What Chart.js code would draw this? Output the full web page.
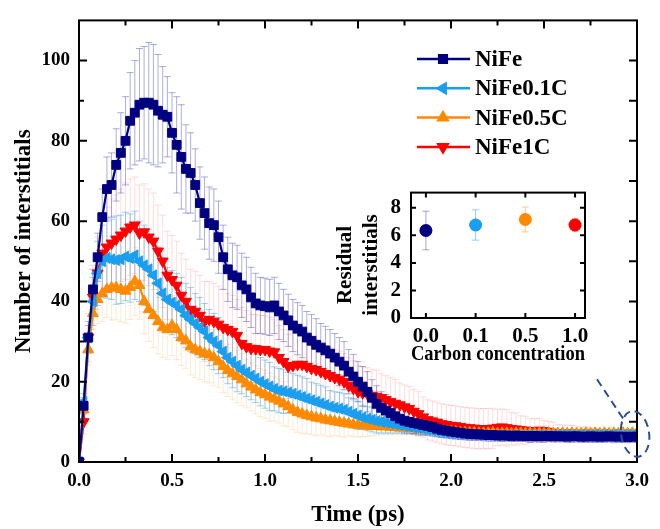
<!DOCTYPE html>
<html>
<head>
<meta charset="utf-8">
<script src="https://cdn.jsdelivr.net/npm/chart.js@4.4.1/dist/chart.umd.min.js"></script>
<style>
  html, body { margin: 0; padding: 0; background: #fff; }
  #wrap { position: relative; width: 660px; height: 529px; }
  #main { position: absolute; left: 0; top: 0; }
  #inset { position: absolute; left: 330px; top: 170px; }
</style>
</head>
<body>
<div id="wrap">
  <canvas id="main" width="660" height="529"></canvas>
  <canvas id="inset" width="270" height="200"></canvas>
</div>
<script>
const FONT = 'Liberation Serif, Times New Roman, serif';

const TIME = [
  0, 0.025, 0.05, 0.075, 0.1, 0.125, 0.15, 0.175,
  0.2, 0.225, 0.25, 0.275, 0.3, 0.325, 0.35, 0.375,
  0.4, 0.425, 0.45, 0.475, 0.5, 0.525, 0.55, 0.575,
  0.6, 0.625, 0.65, 0.675, 0.7, 0.725, 0.75, 0.775,
  0.8, 0.825, 0.85, 0.875, 0.9, 0.925, 0.95, 0.975,
  1.0, 1.025, 1.05, 1.075, 1.1, 1.125, 1.15, 1.175,
  1.2, 1.225, 1.25, 1.275, 1.3, 1.325, 1.35, 1.375,
  1.4, 1.425, 1.45, 1.475, 1.5, 1.525, 1.55, 1.575,
  1.6, 1.625, 1.65, 1.675, 1.7, 1.725, 1.75, 1.775,
  1.8, 1.825, 1.85, 1.875, 1.9, 1.925, 1.95, 1.975,
  2.0, 2.025, 2.05, 2.075, 2.1, 2.125, 2.15, 2.175,
  2.2, 2.225, 2.25, 2.275, 2.3, 2.325, 2.35, 2.375,
  2.4, 2.425, 2.45, 2.475, 2.5, 2.525, 2.55, 2.575,
  2.6, 2.625, 2.65, 2.675, 2.7, 2.725, 2.75, 2.775,
  2.8, 2.825, 2.85, 2.875, 2.9, 2.925, 2.95, 2.975,
  3.0
];

const NIFE = [
  0, 14, 31, 43, 51, 61, 68, 69,
  74, 77, 80, 85, 87, 89, 89.5, 89.5,
  89, 87.5, 86.5, 86, 82, 79, 76, 73,
  72, 69, 64.5, 62, 59.5, 59, 56, 51,
  48, 46.5, 46, 44, 43, 41, 39.5, 39,
  38.8, 38.5, 39, 37.5, 36.5, 35.3, 34, 33.2,
  32.5, 31, 30.2, 29.2, 28.5, 27.8, 27, 26,
  25, 24, 22.5, 21.3, 20, 18.8, 17.5, 16,
  14.5, 13.5, 12.8, 12.2, 11.4, 10.8, 10.3, 10,
  9.7, 9.5, 9.2, 9, 8.7, 8.3, 8, 7.8,
  7.6, 7.4, 7.3, 7.1, 7, 6.9, 6.9, 6.8,
  6.7, 6.7, 6.6, 6.6, 6.6, 6.5, 6.6, 6.5,
  6.5, 6.4, 6.5, 6.4, 6.4, 6.5, 6.4, 6.4,
  6.4, 6.3, 6.4, 6.4, 6.3, 6.3, 6.4, 6.3,
  6.3, 6.3, 6.4, 6.3, 6.3, 6.3, 6.2, 6.3,
  6.3
];
const NIFE_ERR = [
  0, 2, 3, 5, 6, 7, 8, 8,
  9, 10, 11, 12, 13, 14, 14, 15,
  15, 14, 12, 10, 10, 12, 13, 11,
  10, 9, 9, 9, 9, 9, 9, 8,
  8, 8, 8, 8, 8, 7.5, 7.5, 7,
  7, 7, 7, 7, 6.5, 6.5, 6.5, 6.5,
  6.5, 6.5, 6.5, 6.5, 6, 6, 6, 6,
  6, 6, 5.5, 5.5, 5, 5, 5, 4.5,
  4.5, 4, 4, 3.5, 3.5, 3, 3, 2.8,
  2.6, 2.5, 2.4, 2.2, 2, 2, 1.9, 1.8,
  1.8, 1.7, 1.7, 1.6, 1.6, 1.5, 1.5, 1.5,
  1.5, 1.5, 1.4, 1.5, 1.4, 1.4, 1.5, 1.4,
  1.4, 1.5, 1.4, 1.4, 1.5, 1.4, 1.4, 1.4,
  1.4, 1.4, 1.5, 1.4, 1.4, 1.4, 1.5, 1.4,
  1.4, 1.4, 1.4, 1.5, 1.4, 1.4, 1.4, 1.4,
  1.4
];

const NIFE01C = [
  0, 15, 31, 40, 47, 50, 50.8, 50.5,
  50.3, 50.5, 51.2, 50.8, 51.5, 50, 49, 48,
  46.5, 44.5, 42, 40.5, 39.7, 39, 38, 36.5,
  35.5, 34.5, 33.5, 32.5, 31, 30, 29, 27.5,
  26, 25, 24, 23, 22.3, 21.5, 20.8, 20,
  19.4, 18.8, 18.2, 17.8, 17.6, 17.3, 17, 16.6,
  16.2, 15.8, 15.4, 15, 14.6, 14.2, 13.8, 13.5,
  13.3, 13, 12.5, 12, 11.6, 11.1, 10.8, 10.5,
  10.2, 10, 9.8, 9.6, 9.4, 9.2, 9, 8.8,
  8.6, 8.4, 8.3, 8.1, 7.9, 7.7, 7.5, 7.3,
  7.2, 7.1, 7, 6.9, 6.9, 6.8, 6.8, 6.7,
  6.7, 6.7, 6.6, 6.7, 6.6, 6.6, 6.7, 6.6,
  6.6, 6.7, 6.6, 6.7, 6.7, 6.6, 6.7, 6.7,
  6.7, 6.8, 6.7, 6.7, 6.8, 6.7, 6.7, 6.8,
  6.7, 6.8, 6.7, 6.8, 6.8, 6.7, 6.8, 6.7,
  6.75
];
const NIFE01C_ERR = [
  0, 2, 4, 6, 8, 9, 10, 10,
  11, 11, 11, 11, 11, 10, 10, 10,
  9, 9, 9, 8, 8, 8, 8, 8,
  8, 7.5, 7.5, 7, 7, 7, 7, 6.5,
  6.5, 6.5, 6.5, 6, 6, 6, 6, 6,
  6, 6, 5.5, 5.5, 5.5, 5, 5, 5,
  5, 5, 4.5, 4.5, 4.5, 4.5, 4, 4,
  4, 4, 3.5, 3.5, 3.5, 3, 3, 3,
  3, 2.8, 2.6, 2.4, 2.2, 2, 2, 1.8,
  1.8, 1.7, 1.6, 1.5, 1.5, 1.4, 1.4, 1.3,
  1.3, 1.2, 1.2, 1.2, 1.2, 1.1, 1.2, 1.1,
  1.1, 1.2, 1.1, 1.1, 1.2, 1.1, 1.1, 1.1,
  1.2, 1.1, 1.1, 1.1, 1.2, 1.1, 1.1, 1.2,
  1.1, 1.1, 1.2, 1.1, 1.1, 1.1, 1.2, 1.1,
  1.1, 1.1, 1.2, 1.1, 1.1, 1.1, 1.1, 1.1,
  1.1
];

const NIFE05C = [
  0, 13, 28, 37, 40.5, 42, 43, 43.4,
  43.4, 43, 42.6, 43.5, 45, 44, 40, 38,
  36.5, 35, 33.5, 33, 34, 33, 31, 30.2,
  28.7, 28, 27.5, 27, 26.7, 26, 25, 23.8,
  22.8, 22, 21.3, 20.5, 19.5, 18.7, 18, 17.3,
  16.8, 16.2, 15.7, 15.2, 14.5, 13.8, 13, 12.4,
  12, 11.6, 11.3, 11, 10.8, 10.5, 10.3, 10.1,
  9.9, 9.7, 9.5, 9.3, 9.2, 9.1, 9, 8.9,
  8.9, 8.8, 8.8, 8.7, 8.6, 8.5, 8.5, 8.4,
  8.3, 8.2, 8.1, 8, 7.9, 7.8, 7.7, 7.6,
  7.6, 7.5, 7.4, 7.4, 7.3, 7.3, 7.2, 7.2,
  7.2, 7.3, 7.1, 7.2, 7.2, 7.1, 7.2, 7.2,
  7.1, 7.2, 7.1, 7.2, 7.1, 7.2, 7.1, 7.1,
  7.2, 7.1, 7.2, 7.1, 7.1, 7.2, 7.1, 7.2,
  7.1, 7.2, 7.1, 7.2, 7.1, 7.2, 7.1, 7.2,
  7.15
];
const NIFE05C_ERR = [
  0, 2, 4, 5, 6, 7, 7, 8,
  8, 8, 8, 8, 8.5, 8.5, 8, 8,
  8, 8, 7.5, 7.5, 7.5, 7.5, 7, 7,
  7, 7, 7, 7, 7, 7, 6.5, 6.5,
  6.5, 6.5, 6.5, 6.5, 6, 6, 6, 6,
  6, 6, 5.5, 5.5, 5.5, 5, 5, 5,
  5, 4.5, 4.5, 4.5, 4, 4, 4, 3.5,
  3.5, 3.5, 3, 3, 3, 2.8, 2.6, 2.4,
  2.2, 2, 2, 1.8, 1.8, 1.6, 1.6, 1.5,
  1.5, 1.4, 1.4, 1.3, 1.3, 1.2, 1.2, 1.1,
  1.1, 1, 1, 1, 1, 1, 0.9, 1,
  0.9, 1, 0.9, 0.9, 1, 0.9, 0.9, 0.9,
  1, 0.9, 0.9, 0.9, 1, 0.9, 0.9, 0.9,
  0.9, 1, 0.9, 0.9, 0.9, 1, 0.9, 0.9,
  0.9, 0.9, 1, 0.9, 0.9, 0.9, 0.9, 0.9,
  0.9
];

const NIFE1C = [
  0, 10, 31, 41, 47, 52, 53.5, 54.5,
  55.5, 56.5, 57.5, 58.5, 59, 57, 57.3, 56,
  55, 52.5, 50, 46.5, 45.4, 44, 41.5, 40,
  38, 37.5, 36.5, 35, 35.5, 35, 34.3, 33.5,
  33, 32.5, 31.5, 29.5, 28.7, 28.3, 28.2, 28,
  28, 27.6, 27.4, 26, 25, 23.8, 24, 24.3,
  24.3, 23.8, 23.3, 23, 22.5, 22, 21.5, 21,
  20.6, 20, 19, 18.3, 17.5, 17.2, 17, 16.6,
  16.3, 16, 15.5, 15, 14.6, 14.2, 13.7, 13.3,
  12.6, 12, 11.2, 10.5, 10.2, 9.9, 9.5, 9.3,
  9.1, 9, 8.8, 8.6, 8.5, 8.4, 8.3, 8.3,
  8.3, 8.4, 8.6, 8.7, 8.5, 8.3, 8.2, 8,
  7.9, 7.8, 7.8, 7.9, 7.8, 7.6, 7.4, 7.3,
  7.2, 7.2, 7.1, 7.1, 7.1, 7.2, 7.1, 7.1,
  7, 7, 6.9, 6.9, 6.8, 6.8, 6.8, 6.8,
  6.75
];
const NIFE1C_ERR = [
  0, 3, 6, 8, 9, 10, 10, 11,
  11, 11.5, 12, 12, 12, 12, 12, 12,
  12, 11.5, 11.5, 11, 11, 11, 10.5, 10.5,
  10, 10, 10, 10, 9.5, 9.5, 9.5, 9.5,
  9, 9, 9, 9, 9, 8.5, 8.5, 8.5,
  8.5, 8.5, 8, 8, 8, 8, 8, 8,
  7.5, 7.5, 7.5, 7.5, 7.5, 7, 7, 7,
  7, 7, 7, 7, 6.5, 6.5, 6.5, 6.5,
  6.5, 6, 6, 6, 6, 5.5, 5.5, 5.5,
  5.5, 5.5, 5, 5, 5, 5, 5, 5,
  5, 5, 5, 5, 5, 5, 5, 5,
  5, 5, 4.5, 4.5, 4.5, 4, 4, 3.5,
  3.5, 3, 3, 3, 2.5, 2.5, 2.5, 2,
  2, 2, 2, 1.8, 1.6, 1.5, 1.4, 1.2,
  1, 1, 0.9, 0.8, 0.7, 0.6, 0.5, 0.5,
  0.45
];

const X_TICKS = [0, 0.5, 1.0, 1.5, 2.0, 2.5, 3.0];
const X_MINOR = [0.25, 0.75, 1.25, 1.75, 2.25, 2.75];
const Y_TICKS = [0, 20, 40, 60, 80, 100];
const Y_MINOR = [10, 30, 50, 70, 90];

// inset: residual interstitials vs carbon concentration
const CONC_LABELS = ['0.0', '0.1', '0.5', '1.0'];
const CONC_POS = [0, 1, 2, 3];
const RESIDUAL = [6.35, 6.75, 7.15, 6.75];
const RESIDUAL_ERR = [1.4, 1.1, 0.9, 0.45];
const INSET_Y_TICKS = [0, 2, 4, 6, 8];

const SERIES = [
  { label: 'NiFe', values: NIFE, errors: NIFE_ERR, color: '#000080', errColor: 'rgba(40,40,170,0.38)', style: 'rect', rot: 0, radius: 6.2 },
  { label: 'NiFe0.1C', values: NIFE01C, errors: NIFE01C_ERR, color: '#1a9ff0', errColor: 'rgba(30,160,240,0.45)', style: 'triangle', rot: -90, radius: 6.3 },
  { label: 'NiFe0.5C', values: NIFE05C, errors: NIFE05C_ERR, color: '#ff8a00', errColor: 'rgba(255,140,0,0.18)', style: 'triangle', rot: 0, radius: 6.3 },
  { label: 'NiFe1C', values: NIFE1C, errors: NIFE1C_ERR, color: '#ff0000', errColor: 'rgba(255,0,0,0.14)', style: 'triangle', rot: 180, radius: 6.3 },
];

const errorBars = {
  id: 'errorBars',
  beforeDatasetsDraw(chart) {
    const { ctx, chartArea, scales: { x, y } } = chart;
    ctx.save();
    ctx.beginPath();
    ctx.rect(chartArea.left, chartArea.top, chartArea.width, chartArea.height);
    ctx.clip();
    ctx.lineWidth = 1;
    chart.data.datasets.forEach((ds) => {
      if (!ds.errors) return;
      ds.data.forEach((p, i) => {
        const e = ds.errors[i];
        if (!e) return;
        const px = x.getPixelForValue(p.x);
        const top = y.getPixelForValue(p.y + e);
        const bot = y.getPixelForValue(p.y - e);
        const cap = ds.capHalf || 3.5;
        ctx.strokeStyle = Array.isArray(ds.errColor) ? ds.errColor[i] : ds.errColor;
        ctx.beginPath();
        ctx.moveTo(px, top); ctx.lineTo(px, bot);
        ctx.moveTo(px - cap, top); ctx.lineTo(px + cap, top);
        ctx.moveTo(px - cap, bot); ctx.lineTo(px + cap, bot);
        ctx.stroke();
      });
    });
    ctx.restore();
  },
};

// box round the plot with inward ticks on all four sides
const frame = {
  id: 'frame',
  afterDraw(chart, args, opts) {
    const { ctx, chartArea: a, scales: { x, y } } = chart;
    ctx.save();
    ctx.strokeStyle = '#000';
    ctx.lineWidth = opts.lineWidth;
    ctx.beginPath();
    const tick = (vals, len, sides) => {
      vals.forEach((v) => {
        if (sides.includes('b')) { const p = x.getPixelForValue(v); ctx.moveTo(p, a.bottom); ctx.lineTo(p, a.bottom - len); }
        if (sides.includes('t')) { const p = x.getPixelForValue(v); ctx.moveTo(p, a.top); ctx.lineTo(p, a.top + len); }
      });
    };
    const tickY = (vals, len, sides) => {
      vals.forEach((v) => {
        const p = y.getPixelForValue(v);
        if (sides.includes('l')) { ctx.moveTo(a.left, p); ctx.lineTo(a.left + len, p); }
        if (sides.includes('r')) { ctx.moveTo(a.right, p); ctx.lineTo(a.right - len, p); }
      });
    };
    tick(opts.xMajor, opts.major, 'bt');
    tick(opts.xMinor, opts.minor, 'bt');
    tickY(opts.yMajor, opts.major, 'lr');
    tickY(opts.yMinor, opts.minor, 'l');
    tickY(opts.yMinor, opts.rightMinor, 'r');
    ctx.stroke();
    ctx.strokeRect(a.left, a.top, a.width, a.height);
    ctx.restore();
  },
};

const legendBox = {
  id: 'legendBox',
  afterDraw(chart) {
    const { ctx } = chart;
    ctx.save();
    chart.data.datasets.forEach((ds, i) => {
      const yy = 59 + i * 29.3;
      ctx.strokeStyle = ds.borderColor;
      ctx.fillStyle = ds.borderColor;
      ctx.lineWidth = 2.5;
      ctx.beginPath();
      ctx.moveTo(417, yy); ctx.lineTo(470, yy);
      ctx.stroke();
      Chart.helpers.drawPoint(ctx, { pointStyle: ds.pointStyle, rotation: ds.pointRotation, radius: 5.4, borderWidth: 1 }, 443, yy);
      ctx.fillStyle = '#000';
      ctx.font = `bold 23px ${FONT}`;
      ctx.textBaseline = 'middle';
      ctx.fillText(ds.label, 475, yy + 1);
    });
    ctx.restore();
  },
};

// dashed ellipse marking the plateau at the end of the run
const plateauMark = {
  id: 'plateauMark',
  afterDraw(chart) {
    const { ctx, scales: { x, y } } = chart;
    const cx = x.getPixelForValue(2.99), cy = y.getPixelForValue(7);
    ctx.save();
    ctx.strokeStyle = '#2b4f8c';
    ctx.lineWidth = 2;
    ctx.setLineDash([8, 5]);
    ctx.beginPath();
    ctx.ellipse(cx, cy, 14, 23, -0.15, 0, Math.PI * 2);
    ctx.stroke();
    ctx.beginPath();
    ctx.moveTo(x.getPixelForValue(2.785), y.getPixelForValue(20.6));
    ctx.lineTo(x.getPixelForValue(2.93), y.getPixelForValue(10.5));
    ctx.stroke();
    ctx.restore();
  },
};

const tickFont = { family: FONT, size: 19, weight: 'bold' };
const titleFont = { family: FONT, size: 23, weight: 'bold' };

new Chart(document.getElementById('main'), {
  type: 'line',
  data: {
    datasets: SERIES.map((s) => ({
      label: s.label,
      data: TIME.map((t, i) => ({ x: t, y: s.values[i] })),
      errors: s.errors,
      errColor: s.errColor,
      borderColor: s.color,
      backgroundColor: s.color,
      pointBackgroundColor: s.color,
      pointBorderColor: s.color,
      pointStyle: s.style,
      pointRotation: s.rot,
      pointRadius: s.radius,
      pointBorderWidth: 1,
      borderWidth: 2.2,
      tension: 0,
    })),
  },
  options: {
    responsive: false,
    animation: false,
    events: [],
    layout: { padding: { top: 14, right: 23, left: 0, bottom: 0 } },
    plugins: {
      legend: { display: false },
      tooltip: { enabled: false },
      frame: { lineWidth: 2, major: 8, minor: 5, rightMinor: 8, xMajor: X_TICKS, xMinor: X_MINOR, yMajor: Y_TICKS, yMinor: Y_MINOR },
    },
    scales: {
      x: {
        type: 'linear',
        min: 0,
        max: 3,
        afterBuildTicks: (s) => { s.ticks = X_TICKS.map((v) => ({ value: v })); },
        afterFit: (s) => { s.height = 67; },
        grid: { display: false, drawTicks: false },
        border: { display: false },
        ticks: { color: '#000', font: tickFont, padding: 8, maxRotation: 0, callback: (v) => v.toFixed(1) },
        title: { display: true, text: 'Time (ps)', color: '#000', font: titleFont, padding: { top: 0, bottom: 0 } },
      },
      y: {
        min: 0,
        max: 110,
        afterBuildTicks: (s) => { s.ticks = Y_TICKS.map((v) => ({ value: v })); },
        afterFit: (s) => { s.width = 79; },
        grid: { display: false, drawTicks: false },
        border: { display: false },
        ticks: { color: '#000', font: tickFont, padding: 9 },
        title: { display: true, text: 'Number of interstitials', color: '#000', font: titleFont, padding: { top: 10, bottom: 0 } },
      },
    },
  },
  plugins: [errorBars, frame, legendBox, plateauMark],
});

const INSET_COLORS = ['#000080', '#1a9ff0', '#ff8a00', '#ff0000'];
const INSET_ERR_COLORS = ['rgba(60,60,170,0.45)', 'rgba(30,160,240,0.5)', 'rgba(255,140,0,0.45)', 'rgba(255,0,0,0.4)'];

const insetTitle = {
  id: 'insetTitle',
  afterDraw(chart) {
    const { ctx } = chart;
    ctx.save();
    ctx.fillStyle = '#000';
    ctx.font = `bold 21px ${FONT}`;
    ctx.textAlign = 'center';
    ctx.textBaseline = 'middle';
    [['Residual', 16], ['interstitials', 42]].forEach(([t, xx]) => {
      ctx.save();
      ctx.translate(xx, 95);
      ctx.rotate(-Math.PI / 2);
      ctx.fillText(t, 0, 0);
      ctx.restore();
    });
    ctx.restore();
  },
};

new Chart(document.getElementById('inset'), {
  type: 'scatter',
  data: {
    datasets: [{
      data: CONC_POS.map((c, i) => ({ x: c, y: RESIDUAL[i] })),
      errors: RESIDUAL_ERR,
      errColor: INSET_ERR_COLORS,
      backgroundColor: INSET_COLORS,
      borderColor: INSET_COLORS,
      pointRadius: 6.5,
      borderWidth: 0,
    }],
  },
  options: {
    responsive: false,
    animation: false,
    events: [],
    layout: { padding: { top: 8, right: 15, left: 0, bottom: 0 } },
    plugins: {
      legend: { display: false },
      tooltip: { enabled: false },
      frame: { lineWidth: 2, major: 5, minor: 0, rightMinor: 0, xMajor: CONC_POS, xMinor: [], yMajor: INSET_Y_TICKS, yMinor: [] },
    },
    scales: {
      x: {
        type: 'linear',
        min: -0.3,
        max: 3.2,
        afterBuildTicks: (s) => { s.ticks = CONC_POS.map((v) => ({ value: v })); },
        afterFit: (s) => { s.height = 52; },
        grid: { display: false, drawTicks: false },
        border: { display: false },
        ticks: { color: '#000', font: { family: FONT, size: 21, weight: 'bold' }, padding: 6, maxRotation: 0, callback: (v, i) => CONC_LABELS[i] },
        title: { display: true, text: 'Carbon concentration', color: '#000', font: { family: FONT, size: 22, weight: 'bold' }, padding: { top: 0, bottom: 2 } },
      },
      y: {
        min: 0,
        max: 9.1,
        afterBuildTicks: (s) => { s.ticks = INSET_Y_TICKS.map((v) => ({ value: v })); },
        afterFit: (s) => { s.width = 81; },
        grid: { display: false, drawTicks: false },
        border: { display: false },
        ticks: { color: '#000', font: { family: FONT, size: 21, weight: 'bold' }, padding: 10 },
      },
    },
  },
  plugins: [errorBars, frame, insetTitle],
});
</script>
</body>
</html>
